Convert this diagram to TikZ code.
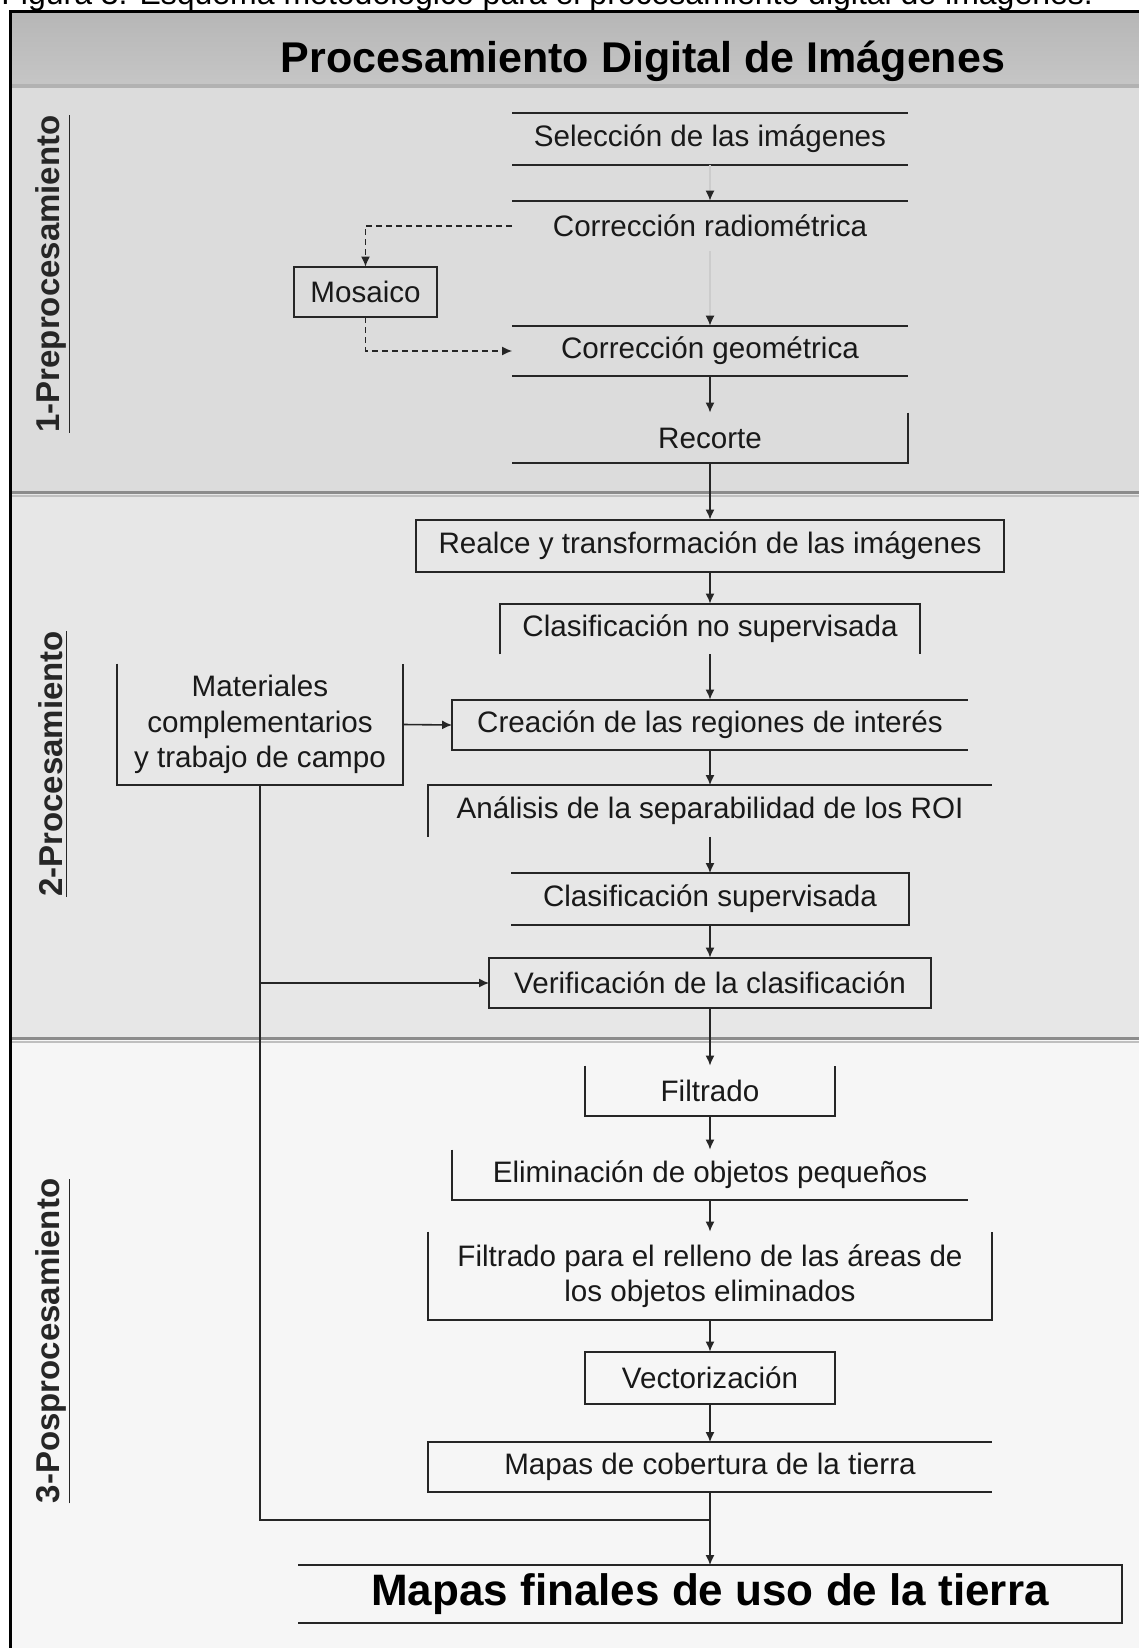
\documentclass[tikz,border=0pt]{standalone}
\usepackage{fontspec}
\setmainfont{Liberation Sans}
\usetikzlibrary{arrows.meta}
\definecolor{bandtop}{HTML}{B6B6B6}
\definecolor{bandbot}{HTML}{C6C6C6}
\definecolor{secA}{HTML}{DCDCDC}
\definecolor{secB}{HTML}{E7E7E7}
\definecolor{secC}{HTML}{F6F6F6}
\definecolor{sepgray}{HTML}{8C8C8C}
\tikzset{
  nb/.style 2 args={minimum width=#1*0.5pt, minimum height=#2*0.5pt, inner sep=0pt,
    font=\fontsize{14.8}{17.8}\selectfont, align=center, text=black!90},
  boxline/.style={line width=1pt, black!85},
  conn/.style={line width=0.8pt, black!85, -{Latex[length=5pt,width=4.5pt]}},
  faintconn/.style={line width=0.6pt, black!20, -{Latex[length=5pt,width=4.5pt,black!85]}},
  plainconn/.style={line width=0.8pt, black!85},
  dconn/.style={line width=0.7pt, black!85, dash pattern=on 3pt off 2pt, -{Latex[length=5pt,width=4.5pt]}},
  seclabel/.style={rotate=90, font=\fontsize{16.5}{20}\selectfont\bfseries, text=black!85},
}
\begin{document}
\begin{tikzpicture}[x=0.5pt,y=-0.5pt]
\useasboundingbox (0,0) rectangle (1139,1648);
\clip (0,0) rectangle (1139,1648);
\fill[white] (0,0) rectangle (1139,1648);
% caption (cut at top)
\node[anchor=base west, inner sep=0pt, font=\fontsize{16}{19}\selectfont] (cap) at (1,4.5)
  {Figura 3. Esquema metodológico para el procesamiento digital de imágenes.};
% backgrounds
\shade[top color=bandtop, bottom color=bandbot] (11,11) rectangle (1145,86);
\fill[black!30] (11,84) rectangle (1145,88);
\fill[secA] (11,88) rectangle (1145,492);
\fill[secB] (11,492) rectangle (1145,1038);
\fill[secC] (11,1038) rectangle (1145,1655);
\draw[sepgray, line width=1.5pt] (11,492) -- (1145,492);
\draw[black!25, line width=0.8pt] (11,496) -- (1145,496);
\draw[sepgray, line width=1.5pt] (11,1038) -- (1145,1038);
\draw[black!25, line width=0.8pt] (11,1042) -- (1145,1042);
% frame
\draw[line width=1.6pt] (10.5,1660) -- (10.5,11.5) -- (1150,11.5);
% title
\node[font=\fontsize{21.5}{25}\selectfont\bfseries] (title) at (643,61) {Procesamiento Digital de Imágenes};
% section labels
\node[seclabel] (lab1) at (53,274) {\underline{1-Preprocesamiento}};
\node[seclabel] (lab2) at (53,764) {\underline{2-Procesamiento}};
\node[seclabel] (lab3) at (53,1341) {\underline{3-Posprocesamiento}};
% nodes
\node[nb={395}{51}] (sel) at (710,139) {Selección de las imágenes};
\node[nb={395}{50}] (cr) at (710,226) {Corrección radiométrica};
\node[nb={143}{50}] (mos) at (365.5,292) {Mosaico};
\node[nb={395}{50}] (cg) at (710,351) {Corrección geométrica};
\node[nb={395}{50}] (rec) at (710,438) {Recorte};
\node[nb={587}{52}] (real) at (710,546) {Realce y transformación de las imágenes};
\node[nb={419}{50}] (cns) at (710,629) {Clasificación no supervisada};
\node[nb={515}{50}] (crea) at (710,725) {Creación de las regiones de interés};
\node[nb={286}{121}] (mat) at (260,724.5) {Materiales\\complementarios\\y trabajo de campo};
\node[nb={563}{51}] (ana) at (710,811) {Análisis de la separabilidad de los ROI};
\node[nb={397}{51}] (cs) at (710,899) {Clasificación supervisada};
\node[nb={441}{50}] (ver) at (710,983) {Verificación de la clasificación};
\node[nb={250}{50}] (fil) at (710,1091) {Filtrado};
\node[nb={515}{50}] (elim) at (710,1175) {Eliminación de objetos pequeños};
\node[nb={563}{88}] (fr) at (710,1276) {Filtrado para el relleno de las áreas de\\los objetos eliminados};
\node[nb={250}{52}] (vec) at (710,1378) {Vectorización};
\node[nb={563}{49}] (mc) at (710,1467) {Mapas de cobertura de la tierra};
\node[nb={823}{57}, font=\fontsize{22}{26}\selectfont\bfseries, text=black] (mf) at (710,1594) {Mapas finales de uso de la tierra};
% box sides (as printed)
\draw[boxline] (sel.north west) -- (sel.north east) (sel.south west) -- (sel.south east);
\draw[boxline] (cr.north west) -- (cr.north east);
\draw[boxline] (mos.south west) rectangle (mos.north east);
\draw[boxline] (cg.north west) -- (cg.north east) (cg.south west) -- (cg.south east);
\draw[boxline] (rec.north east) -- (rec.south east) -- (rec.south west);
\draw[boxline] (real.south west) rectangle (real.north east);
\draw[boxline] (cns.south west) -- (cns.north west) -- (cns.north east) -- (cns.south east);
\draw[boxline] (crea.north east) -- (crea.north west) -- (crea.south west) -- (crea.south east);
\draw[boxline] (mat.north west) -- (mat.south west) -- (mat.south east) -- (mat.north east);
\draw[boxline] (ana.south west) -- (ana.north west) -- (ana.north east);
\draw[boxline] (cs.north west) -- (cs.north east) -- (cs.south east) -- (cs.south west);
\draw[boxline] (ver.south west) rectangle (ver.north east);
\draw[boxline] (fil.north west) -- (fil.south west) -- (fil.south east) -- (fil.north east);
\draw[boxline] (elim.north west) -- (elim.south west) -- (elim.south east);
\draw[boxline] (fr.north west) -- (fr.south west) -- (fr.south east) -- (fr.north east);
\draw[boxline] (vec.south west) rectangle (vec.north east);
\draw[boxline] (mc.north east) -- (mc.north west) -- (mc.south west) -- (mc.south east);
\draw[boxline] (mf.north west) -- (mf.north east) -- (mf.south east) -- (mf.south west);
% connectors
\draw[faintconn] (sel.south) -- (cr.north);
\draw[faintconn] (cr.south) -- (cg.north);
\draw[conn] (cg.south) -- (rec.north);
\draw[conn] (rec.south) -- (real.north);
\draw[conn] (real.south) -- (cns.north);
\draw[conn] (cns.south) -- (crea.north);
\draw[conn] (mat.east) -- (crea.west);
\draw[conn] (crea.south) -- (ana.north);
\draw[conn] (ana.south) -- (cs.north);
\draw[conn] (cs.south) -- (ver.north);
\draw[conn] (ver.south) -- (fil.north);
\draw[conn] (fil.south) -- (elim.north);
\draw[conn] (elim.south) -- (fr.north);
\draw[conn] (fr.south) -- (vec.north);
\draw[conn] (vec.south) -- (mc.north);
\draw[conn] (mc.south) -- (mf.north);
\coordinate (join) at (710,1520);
\coordinate (branch) at (260,983);
\draw[plainconn] (mat.south) |- (join);
\draw[conn] (branch) -- (ver.west);
\draw[dconn] (cr.west) -| (mos.north);
\draw[dconn] (mos.south) |- (cg.west);
\end{tikzpicture}
\end{document}
